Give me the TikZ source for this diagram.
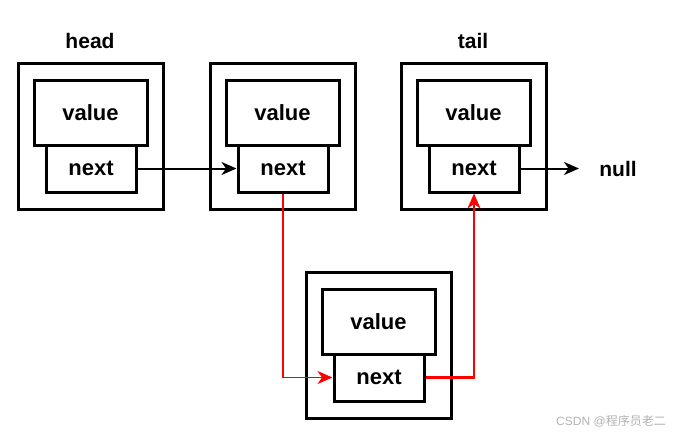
\documentclass[tikz,border=0pt]{standalone}
\usepackage{fontspec}
\setmainfont{Liberation Sans}
\newfontfamily\cjk{Noto Sans CJK SC}
\usetikzlibrary{arrows.meta}
\begin{document}
\begin{tikzpicture}[x=1pt,y=-1pt,
  outerbox/.style={draw,line width=3pt,minimum width=145pt,minimum height=146pt,inner sep=0pt},
  valbox/.style={draw,line width=3pt,minimum width=113pt,minimum height=65pt,inner sep=0pt,fill=white,font=\fontsize{22}{26}\selectfont\bfseries},
  nextbox/.style={draw,line width=3pt,minimum width=90pt,minimum height=47pt,inner sep=0pt,fill=white,font=\fontsize{22}{26}\selectfont\bfseries},
  lbl/.style={font=\fontsize{21}{25}\selectfont\bfseries,inner sep=0pt},
  arr/.style={-{Stealth[length=15pt,width=13pt,inset=4.5pt]}},
  redline/.style={draw=red,arr}
]
\useasboundingbox[fill=white] (0,0) rectangle (674,434);
% nodes
\foreach \i/\dx/\dy in {1/0/0,2/192/0,3/383/0,4/288/209}{
  \node[outerbox] (o\i) at (90.5+\dx,136+\dy) {};
  \node[valbox] (v\i) at (90.5+\dx,112.5+\dy) {value};
  \node[nextbox] (n\i) at (91+\dx,168.5+\dy) {next};
}
\node[lbl] (head) at (90,41) {head};
\node[lbl] (tail) at (473,41) {tail};
\node[lbl,anchor=center] (null) at (618,168.5) {null};
\coordinate (nullend) at (579,168.5);
% connectors
\draw[line width=2pt,arr] (n1.east) -- (n2.west);
\draw[line width=2pt,arr] (n3.east) -- (nullend);
\draw[redline,line width=1.3pt] (n2.south) |- (n4.west);
\draw[redline,line width=2.4pt] (n4.east) -| (n3.south);
\node[text=black!30,font=\fontsize{12}{14}\selectfont,inner sep=0pt] (wm) at (611,421) {CSDN @\cjk 程序员老二};
\end{tikzpicture}
\end{document}
